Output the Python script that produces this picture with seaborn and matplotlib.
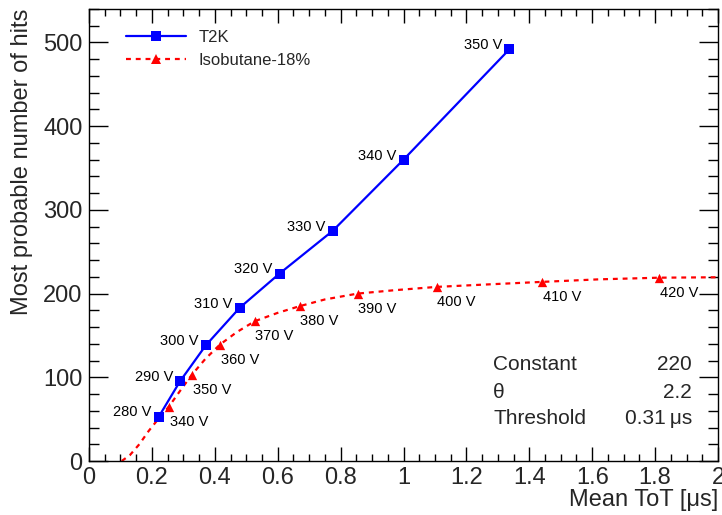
import matplotlib
matplotlib.use("Agg")
import matplotlib.pyplot as plt
import seaborn as sns
import pandas as pd
from matplotlib.lines import Line2D
from matplotlib.ticker import MultipleLocator

# ---- data ----
t2k_tot = [0.222, 0.289, 0.371, 0.479, 0.606, 0.775, 1.000, 1.337]
t2k_hits = [53, 95, 138, 183, 224, 275, 360, 492]
t2k_labels = ["280 V", "290 V", "300 V", "310 V", "320 V", "330 V", "340 V", "350 V"]

iso_tot = [0.254, 0.327, 0.416, 0.527, 0.670, 0.854, 1.105, 1.441, 1.813]
iso_hits = [65, 103, 139, 167, 185, 200, 208, 214, 219]
iso_labels = ["340 V", "350 V", "360 V", "370 V", "380 V", "390 V", "400 V", "410 V", "420 V"]

# fitted curve
fit_tot = [0.104, 0.13, 0.16, 0.19, 0.22, 0.254, 0.29, 0.327, 0.37, 0.416, 0.47,
           0.527, 0.60, 0.67, 0.75, 0.854, 0.97, 1.105, 1.27, 1.441, 1.62, 1.813, 2.0]
fit_hits = [0, 7, 20, 36, 50, 65, 84, 103, 122, 139, 154,
            167, 177, 185, 193, 200, 204, 208, 211, 214, 217, 219, 219.5]

fit_params = [("Constant", "220"), ("\u03b8", "2.2"), ("Threshold", "0.31\u2009\u03bcs")]

sns.set_style("ticks")
plt.rcParams['font.family'] = ['Liberation Sans', 'DejaVu Sans']

W, H = 722, 515
fig = plt.figure(figsize=(W / 100, H / 100), dpi=100)
ax = fig.add_axes([89 / W, 1 - 461 / H, (718 - 89) / W, (461 - 9) / H])

t2k = pd.DataFrame({"tot": t2k_tot, "hits": t2k_hits})
iso = pd.DataFrame({"tot": iso_tot, "hits": iso_hits})
fit = pd.DataFrame({"tot": fit_tot, "hits": fit_hits})

sns.lineplot(data=fit, x="tot", y="hits", ax=ax, color="red", lw=1.6,
             dashes=False, sort=False, linestyle=(0, (2.2, 2.2)), zorder=2)
sns.lineplot(data=t2k, x="tot", y="hits", ax=ax, color="blue", lw=1.6,
             marker="s", markersize=6.5, markeredgewidth=0, sort=False, zorder=3)
sns.scatterplot(data=iso, x="tot", y="hits", ax=ax, color="red", marker="^",
                s=45, linewidth=0, zorder=4)

for x, y, t in zip(t2k_tot, t2k_hits, t2k_labels):
    ax.annotate(t, (x, y), xytext=(-5, 3), textcoords="offset points",
                ha="right", va="center", fontsize=10.5, color="black")
for x, y, t in zip(iso_tot, iso_hits, iso_labels):
    ax.annotate(t, (x, y), xytext=(0.5, -10.8), textcoords="offset points",
                ha="left", va="center", fontsize=10.5, color="black")

ax.set_xlim(0, 2)
ax.set_ylim(0, 540)
ax.xaxis.set_major_locator(MultipleLocator(0.2))
ax.xaxis.set_minor_locator(MultipleLocator(0.05))
ax.yaxis.set_major_locator(MultipleLocator(100))
ax.yaxis.set_minor_locator(MultipleLocator(20))
ax.set_xticks([0, 0.2, 0.4, 0.6, 0.8, 1.0, 1.2, 1.4, 1.6, 1.8, 2.0])
ax.set_xticklabels(["0", "0.2", "0.4", "0.6", "0.8", "1", "1.2", "1.4", "1.6", "1.8", "2"])

ax.tick_params(axis="both", which="both", direction="in", top=True, right=True,
               color="black", width=1.0)
ax.tick_params(axis="x", which="major", length=10, pad=4, labelsize=17)
ax.tick_params(axis="x", which="minor", length=5)
ax.tick_params(axis="y", which="major", length=13.5, pad=4.5, labelsize=17)
ax.tick_params(axis="y", which="minor", length=7)
for s in ax.spines.values():
    s.set_visible(True)
    s.set_linewidth(1.0)
    s.set_color("black")

ax.set_xlabel("Mean ToT [\u03bcs]", fontsize=17, loc="right")
ax.xaxis.set_label_coords(1.0, -(489 - 461) / 452)
ax.set_ylabel("Most probable number of hits", fontsize=17, loc="top")
ax.yaxis.set_label_coords(-(89 - 33) / 629, 1.0)

handles = [
    Line2D([], [], color="blue", lw=1.6, marker="s", markersize=6.5, markeredgewidth=0),
    Line2D([], [], color="red", lw=1.6, linestyle=(0, (2.2, 2.2)), marker="^",
           markersize=7, markeredgewidth=0),
]
ax.legend(handles, ["T2K", "Isobutane-18%"], loc="upper left", frameon=False,
          bbox_to_anchor=(126 / W, 1 - 30 / H), bbox_transform=fig.transFigure,
          borderpad=0, borderaxespad=0, handlelength=3.6, handletextpad=0.75,
          labelspacing=0.5, fontsize=12)

ys = [364, 393, 418]
for (name, val), yp in zip(fit_params, ys):
    fig.text(493 / W, 1 - yp / H, name, ha="left", va="center", fontsize=15)
    fig.text(692 / W, 1 - yp / H, val, ha="right", va="center", fontsize=15)

fig.savefig("out.png", dpi=100)
